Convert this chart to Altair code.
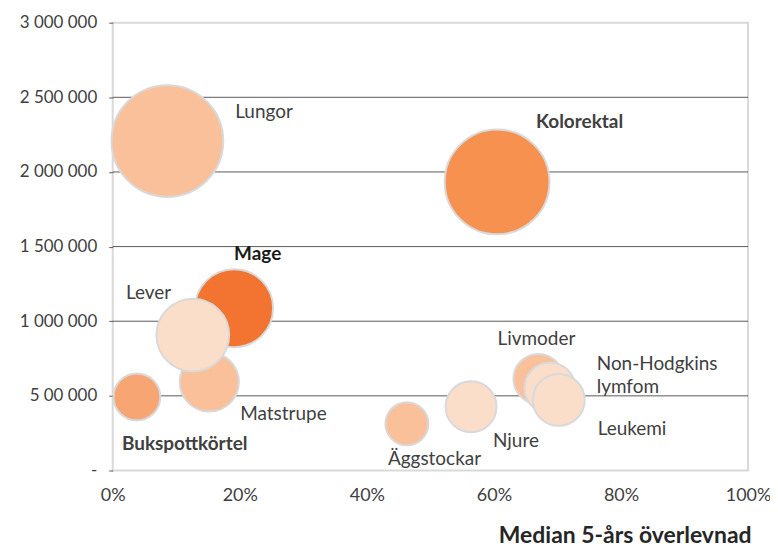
import altair as alt
import pandas as pd

# ---- data ----
names = ["Lungor", "Kolorektal", "Mage", "Matstrupe", "Lever", "Bukspottkörtel",
         "Äggstockar", "Njure", "Livmoder", "Non-Hodgkins lymfom", "Leukemi"]
labels = ["Lungor", "Kolorektal", "Mage", "Matstrupe", "Lever", "Bukspottkörtel",
          "Äggstockar", "Njure", "Livmoder", "Non-Hodgkins\nlymfom", "Leukemi"]
survival_pct = [8.6, 60.5, 19.1, 15.2, 12.6, 3.8, 46.3, 56.4, 67.0, 68.8, 70.2]
y_values = [2207000, 1933000, 1087000, 593000, 907000, 493000, 313000, 427000, 613000, 553000, 473000]
bubble = [125, 110, 61, 35, 53, 22, 18.5, 26, 25, 26, 27]

y_ticks = [0, 500000, 1000000, 1500000, 2000000, 2500000, 3000000]
y_tick_labels = ["-", "5 00 000", "1 000 000", "1 500 000", "2 000 000", "2 500 000", "3 000 000"]
x_ticks = [0, 20, 40, 60, 80, 100]
grid_values = [500000, 1000000, 1500000, 2000000, 2500000]

# ---- styles ----
colors = ["#F9C09A", "#F7914F", "#F37331", "#F9C09A", "#FBDECA", "#F6A573",
          "#F9C09A", "#FBDECA", "#F9C09A", "#FBDECA", "#FBDECA"]
bold = [False, True, True, False, False, True, False, False, False, False, False]
label_dx = [68, 39, 0, 31, -67, -15, -19, 22, -41, 47, 39]
label_dy = [-29, -60, -54, 32, -42, 47, 35, 34, -40, -24, 29]
label_color = ["#404040", "#404040", "#1a1a1a", "#404040", "#404040", "#404040",
               "#404040", "#404040", "#404040", "#404040", "#404040"]

df = pd.DataFrame({
    "name": names,
    "label": labels,
    "x": survival_pct,
    "y": y_values,
    "size": bubble,
    "order": list(range(len(names))),
})

y_label_expr = " : ".join(
    f"datum.value == {v} ? '{l}'" for v, l in zip(y_ticks, y_tick_labels)
) + " : ''"

x_enc = alt.X(
    "x:Q",
    scale=alt.Scale(domain=[0, 100], nice=False),
    axis=alt.Axis(
        values=x_ticks,
        labelExpr="datum.value + '%'",
        domain=False,
        ticks=False,
        grid=False,
        labelPadding=16,
        labelFlush=False,
        labelFontSize=18,
        labelColor="#404040",
        title="Median 5-års överlevnad",
        titleFontSize=23,
        titleFontWeight="bold",
        titleColor="#262626",
        titleAnchor="end",
        titleAlign="right",
        titleBaseline="alphabetic",
        titleX=640,
        titleY=72,
    ),
)
y_enc = alt.Y(
    "y:Q",
    scale=alt.Scale(domain=[0, 3000000], nice=False),
    axis=alt.Axis(
        values=y_ticks,
        labelExpr=y_label_expr,
        domain=False,
        ticks=True,
        tickSize=4,
        tickColor="#595959",
        grid=False,
        labelPadding=12,
        labelFontSize=17,
        labelColor="#404040",
        title=None,
    ),
)

grid = alt.Chart(pd.DataFrame({"y": grid_values})).mark_rule(
    color="#595959", strokeWidth=1
).encode(y=y_enc)

bubbles = alt.Chart(df).mark_circle(
    stroke="#D9D9D9", strokeWidth=2, opacity=1
).encode(
    x=x_enc,
    y=y_enc,
    size=alt.Size("size:Q", scale=alt.Scale(domain=[0, 125], range=[0, 12544]), legend=None),
    color=alt.Color("name:N", scale=alt.Scale(domain=names, range=colors), legend=None),
    order=alt.Order("order:Q"),
)

text_layers = []
for i, n in enumerate(names):
    t = alt.Chart(df).transform_filter(alt.datum.name == n).mark_text(
        align="left",
        baseline="middle",
        dx=label_dx[i],
        dy=label_dy[i],
        fontSize=19,
        fontWeight="bold" if bold[i] else "normal",
        color=label_color[i],
        lineBreak="\n",
        lineHeight=23,
    ).encode(x=x_enc, y=y_enc, text="label:N")
    text_layers.append(t)

chart = alt.layer(grid, bubbles, *text_layers).properties(
    width=637,
    height=449,
    autosize=alt.AutoSizeParams(type="none"),
    padding={"left": 105, "top": 14, "right": 22, "bottom": 77},
).configure(
    font="Lato",
).configure_view(
    stroke="#D9D9D9",
    strokeWidth=2,
)

chart.save("out.html", embed_options={"renderer": "svg", "actions": False})
